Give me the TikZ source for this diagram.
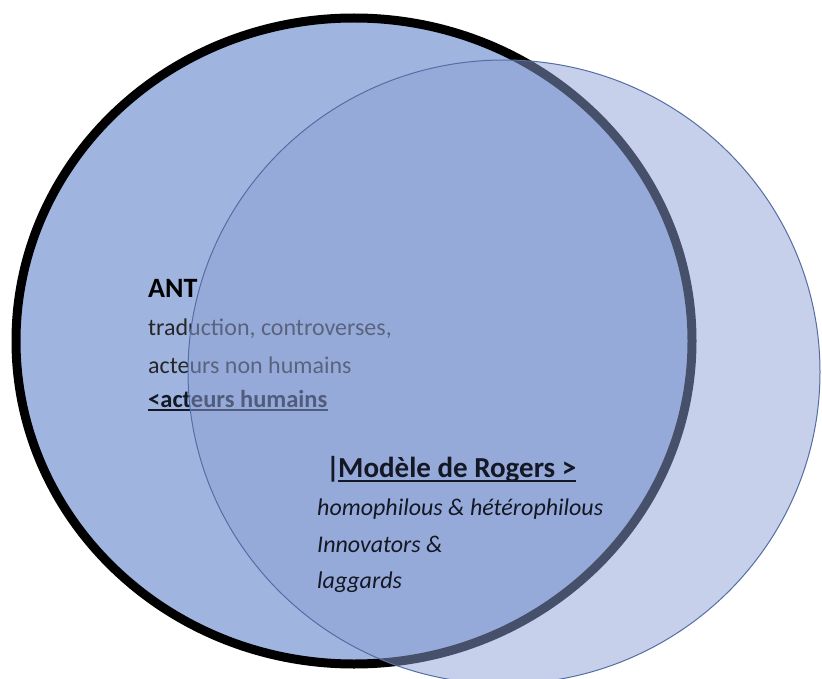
\documentclass[tikz,border=0pt]{standalone}
\usepackage{fontspec}
\setmainfont{Carlito}
\definecolor{leftblue}{RGB}{159,181,224}
\definecolor{rightblue}{RGB}{142,161,213}
\definecolor{rimblue}{RGB}{84,110,165}
\definecolor{softink}{RGB}{38,38,38}
\definecolor{darkink}{RGB}{20,24,36}
\tikzset{txt/.style = {anchor=base west, inner sep=0pt, font=\fontsize{24}{28}\selectfont, text=softink},
         head/.style = {txt, font=\bfseries\fontsize{24}{28}\selectfont, text=darkink},
         rogtxt/.style = {txt, font=\itshape\fontsize{24}{28}\selectfont, text=darkink},
         uline/.style = {line width=1.5pt}}

\begin{document}
\begin{tikzpicture}[x=1pt,y=-1pt]
\useasboundingbox (0,0) rectangle (822,679);
\fill[leftblue] (354,341) ellipse [x radius=338pt, y radius=323pt];
\draw[line width=9pt] (354,341) ellipse [x radius=338pt, y radius=323pt];
\node [head, text=black, font=\bfseries\fontsize{28}{32}\selectfont] (ant) at (148,297) {ANT};
\node [txt] (trad) at (148,335) {traduction, controverses,};
\node [txt] (nonhum) at (148,373) {acteurs non humains};
\node [head, font=\bfseries\fontsize{24.5}{28}\selectfont] (hum) at (148,407) {<acteurs humains};
\draw[uline, darkink] ([yshift=-3pt]hum.base west) -- ([yshift=-3pt]hum.base east);
\fill[rightblue, fill opacity=0.5] (504,372) ellipse [x radius=316pt, y radius=312pt];
\draw[rimblue, line width=1pt] (504,372) ellipse [x radius=316pt, y radius=312pt];
\node [head, font=\bfseries\fontsize{29}{33}\selectfont] (bar) at (326,477) {|};
\node [head, font=\bfseries\fontsize{29}{33}\selectfont] (rog) at (338,477) {Modèle de Rogers >};
\draw[uline, darkink] ([yshift=-4pt]rog.base west) -- ([yshift=-4pt]rog.base east);
\node [rogtxt] (homo) at (317,515) {homophilous \& hétérophilous};
\node [rogtxt] (innov) at (317,552) {Innovators \&};
\node [rogtxt] (lagg) at (317,588) {laggards};
\end{tikzpicture}
\end{document}
